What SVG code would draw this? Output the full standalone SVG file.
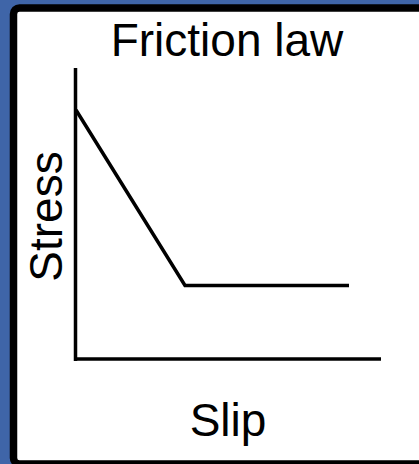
<svg xmlns="http://www.w3.org/2000/svg" width="419" height="464" viewBox="0 0 419 464">
<style>
.lbl{font-family:"Liberation Sans",Arial,sans-serif;font-size:46px;fill:#000;text-anchor:middle}
.ln{stroke:#000;stroke-width:3.5;fill:none}
</style>
<rect x="0" y="0" width="419" height="464" fill="#3F65A8"/>
<g id="frame">
<rect x="13.5" y="8" width="420" height="456" rx="6" fill="#fff" stroke="#000" stroke-width="7.5"/>
</g>
<g id="title"><text class="lbl" x="227" y="56">Friction law</text></g>
<g id="ylabel"><text class="lbl" transform="translate(62,216.5) rotate(-90)">Stress</text></g>
<g id="xlabel"><text class="lbl" x="228" y="436">Slip</text></g>
<g id="connectors">
<line class="ln" x1="75.5" y1="68" x2="75.5" y2="361"/>
<line class="ln" x1="74" y1="359" x2="381" y2="359"/>
<polyline class="ln" points="76,110 185,285.5 349,285.5"/>
</g>
</svg>
